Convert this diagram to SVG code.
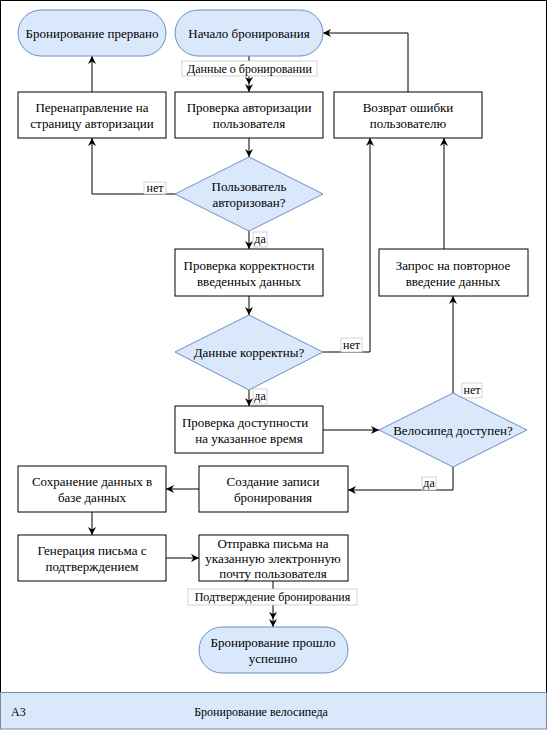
<svg xmlns="http://www.w3.org/2000/svg" width="547" height="730" viewBox="0 0 547 730">
<style>
text{font-family:'Liberation Serif','Times New Roman',serif;font-size:13px;fill:#000;text-anchor:middle;dominant-baseline:central}
.term{fill:#dae8fc;stroke:#6c8ebf;stroke-width:1}
.box{fill:#fff;stroke:#000;stroke-width:1}
.dia{fill:#dae8fc;stroke:#6c8ebf;stroke-width:1}
.edge{fill:none;stroke:#000;stroke-width:1}
.lbl{fill:#fff;stroke:#c8c8c8;stroke-width:0.8}
.lt{font-size:12px}
</style>
<defs>
<marker id="ah" viewBox="0 0 10 10" refX="10" refY="5" markerWidth="8" markerHeight="8" markerUnits="userSpaceOnUse" orient="auto">
<path d="M0,0 L10,5 L0,10 L3,5 Z" fill="#000"/>
</marker>
</defs>
<rect x="0.5" y="0.5" width="546" height="692" fill="#fff" stroke="#000"/>
<g id="band">
<rect x="0.5" y="692.5" width="546" height="36.5" fill="#dae8fc" stroke="#7a8a9c"/>
<text class="lt" x="11" y="712" style="text-anchor:start">A3</text>
<text class="lt" x="261" y="712">Бронирование велосипеда</text>
</g>
<g id="connectors">
<path class="edge" d="M249,56 V92" marker-end="url(#ah)"/>
<path d="M245,77 L249,84 L253,77 L249,79 Z" fill="#000"/>
<path class="edge" d="M249,138 V157" marker-end="url(#ah)"/>
<path class="edge" d="M175,194 H92 V138" marker-end="url(#ah)"/>
<path class="edge" d="M92,92 V56" marker-end="url(#ah)"/>
<path class="edge" d="M249,231 V249" marker-end="url(#ah)"/>
<path class="edge" d="M249,296 V315" marker-end="url(#ah)"/>
<path class="edge" d="M323,352 H370 V138" marker-end="url(#ah)"/>
<path class="edge" d="M249,390 V406" marker-end="url(#ah)"/>
<path class="edge" d="M323,430 H379" marker-end="url(#ah)"/>
<path class="edge" d="M453,393 V296" marker-end="url(#ah)"/>
<path class="edge" d="M444,249 V138" marker-end="url(#ah)"/>
<path class="edge" d="M453,467 V490 H348" marker-end="url(#ah)"/>
<path class="edge" d="M199,489 H166" marker-end="url(#ah)"/>
<path class="edge" d="M92,512 V535" marker-end="url(#ah)"/>
<path class="edge" d="M166,558 H199" marker-end="url(#ah)"/>
<path class="edge" d="M273,581 V627" marker-end="url(#ah)"/>
<path d="M269,612 L273,619 L277,612 L273,614 Z" fill="#000"/>
<path class="edge" d="M408,92 V33 H323" marker-end="url(#ah)"/>
<rect class="lbl" x="182" y="61" width="135" height="15"/>
<text class="lt" x="249.5" y="68.5">Данные о бронировании</text>
<rect class="lbl" x="144" y="182" width="22" height="12"/>
<text class="lt" x="155" y="188">нет</text>
<rect class="lbl" x="253" y="232" width="14" height="15"/>
<text class="lt" x="260" y="239">да</text>
<rect class="lbl" x="341" y="338" width="21" height="14"/>
<text class="lt" x="351.5" y="345">нет</text>
<rect class="lbl" x="253" y="389" width="14" height="15"/>
<text class="lt" x="260" y="396">да</text>
<rect class="lbl" x="462" y="383" width="20" height="15"/>
<text class="lt" x="472" y="390">нет</text>
<rect class="lbl" x="422" y="477" width="14" height="13"/>
<text class="lt" x="429" y="483">да</text>
<rect class="lbl" x="188" y="589" width="169" height="16"/>
<text class="lt" x="272.5" y="597">Подтверждение бронирования</text>
</g>
<g id="n-abort">
<rect class="term" x="18" y="10" width="148" height="46" rx="23"/>
<text x="92" y="33">Бронирование прервано</text>
</g>
<g id="n-start">
<rect class="term" x="175" y="10" width="148" height="46" rx="23"/>
<text x="249" y="33">Начало бронирования</text>
</g>
<g id="n-redirect">
<rect class="box" x="18" y="92" width="148" height="46"/>
<text x="92" y="107">Перенаправление на</text>
<text x="92" y="123">страницу авторизации</text>
</g>
<g id="n-authcheck">
<rect class="box" x="175" y="92" width="148" height="46"/>
<text x="249" y="107">Проверка авторизации</text>
<text x="249" y="123">пользователя</text>
</g>
<g id="n-error">
<rect class="box" x="334" y="92" width="148" height="46"/>
<text x="408" y="107">Возврат ошибки</text>
<text x="408" y="123">пользователю</text>
</g>
<g id="n-authq">
<polygon class="dia" points="249,157 323,194 249,231 175,194"/>
<text x="249" y="186">Пользователь</text>
<text x="249" y="202">авторизован?</text>
</g>
<g id="n-validate">
<rect class="box" x="175" y="249" width="148" height="47"/>
<text x="249" y="265">Проверка корректности</text>
<text x="249" y="281">введенных данных</text>
</g>
<g id="n-reenter">
<rect class="box" x="379" y="249" width="149" height="47"/>
<text x="453" y="265">Запрос на повторное</text>
<text x="453" y="281">введение данных</text>
</g>
<g id="n-validq">
<polygon class="dia" points="249,315 323,352 249,390 175,352"/>
<text x="249" y="352">Данные корректны?</text>
</g>
<g id="n-avail">
<rect class="box" x="175" y="406" width="148" height="47"/>
<text x="245" y="422">Проверка доступности</text>
<text x="249" y="438">на указанное время</text>
</g>
<g id="n-availq">
<polygon class="dia" points="453,393 527,430 453,467 379,430"/>
<text x="453" y="430">Велосипед доступен?</text>
</g>
<g id="n-save">
<rect class="box" x="18" y="466" width="148" height="46"/>
<text x="92" y="481">Сохранение данных в</text>
<text x="92" y="497">базе данных</text>
</g>
<g id="n-create">
<rect class="box" x="199" y="466" width="149" height="46"/>
<text x="273" y="481">Создание записи</text>
<text x="273" y="497">бронирования</text>
</g>
<g id="n-gen">
<rect class="box" x="18" y="535" width="148" height="46"/>
<text x="92" y="550">Генерация письма с</text>
<text x="92" y="566">подтверждением</text>
</g>
<g id="n-send">
<rect class="box" x="199" y="535" width="149" height="46"/>
<text x="273" y="543">Отправка письма на</text>
<text x="273" y="558">указанную электронную</text>
<text x="273" y="573">почту пользователя</text>
</g>
<g id="n-success">
<rect class="term" x="199" y="627" width="149" height="46" rx="23"/>
<text x="273" y="642">Бронирование прошло</text>
<text x="273" y="658">успешно</text>
</g>
</svg>
